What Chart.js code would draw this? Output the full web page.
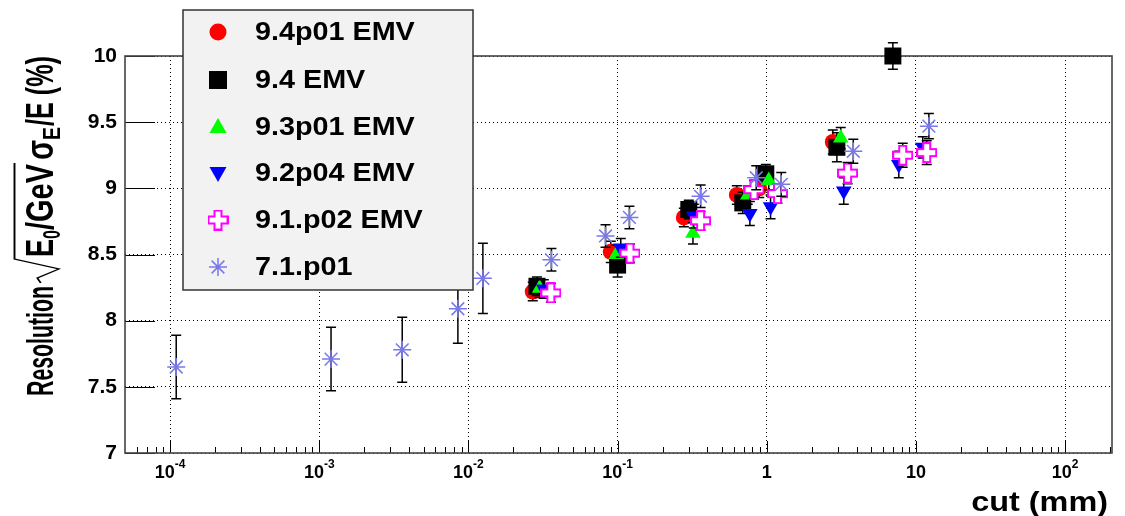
<!DOCTYPE html>
<html>
<head>
<meta charset="utf-8">
<script src="https://cdn.jsdelivr.net/npm/chart.js@4.4.1/dist/chart.umd.min.js"></script>
<style>
  body { margin: 0; background: #fff; }
</style>
</head>
<body>
<canvas id="resChart" width="1125" height="516"></canvas>
<script>
// values: cut (mm), resolution (%), error
const seriesNames = ['9.4p01 EMV', '9.4 EMV', '9.3p01 EMV', '9.2p04 EMV', '9.1.p02 EMV', '7.1.p01'];

const cut94p01 = [0.027, 0.090, 0.278, 0.63, 0.89, 2.77];
const res94p01 = [8.22, 8.52, 8.78, 8.95, 9.00, 9.35];
const err94p01 = [0.07, 0.08, 0.07, 0.07, 0.07, 0.09];

const cut94 = [0.0288, 0.100, 0.300, 0.69, 0.985, 2.95, 7.0];
const res94 = [8.26, 8.42, 8.84, 8.89, 9.11, 9.31, 10.0];
const err94 = [0.07, 0.09, 0.07, 0.08, 0.07, 0.11, 0.10];

const cut93p01 = [0.030, 0.098, 0.32, 0.745, 1.03, 3.13];
const res93p01 = [8.245, 8.50, 8.66, 8.95, 9.06, 9.38];
const err93p01 = [0.07, 0.07, 0.08, 0.07, 0.07, 0.08];

const cut92p04 = [0.032, 0.105, 0.324, 0.77, 1.06, 3.28, 7.67, 11.1];
const res92p04 = [8.24, 8.55, 8.79, 8.81, 8.86, 8.98, 9.18, 9.31];
const err92p04 = [0.07, 0.07, 0.09, 0.09, 0.09, 0.10, 0.10, 0.08];

const cut91p02 = [0.0357, 0.121, 0.36, 0.82, 1.18, 3.48, 8.15, 11.8];
const res91p02 = [8.21, 8.51, 8.755, 8.99, 8.96, 9.115, 9.25, 9.27];
const err91p02 = [0.07, 0.07, 0.07, 0.07, 0.07, 0.08, 0.09, 0.09];

const cut71p01 = [1.1e-4, 1.2e-3, 3.6e-3, 8.5e-3, 0.0125, 0.036, 0.083, 0.12, 0.36, 0.85, 1.25, 3.8, 12.2];
const res71p01 = [7.65, 7.71, 7.78, 8.09, 8.32, 8.46, 8.64, 8.78, 8.94, 9.08, 9.03, 9.28, 9.47];
const err71p01 = [0.24, 0.24, 0.245, 0.26, 0.265, 0.085, 0.085, 0.085, 0.085, 0.09, 0.09, 0.09, 0.095];

const yTicks = [7, 7.5, 8, 8.5, 9, 9.5, 10];
const decadeValues = [1e-4, 1e-3, 1e-2, 1e-1, 1, 10, 100];
const decadeBase = ['10', '10', '10', '10', '1', '10', '10'];
const decadeExp = ['-4', '-3', '-2', '-1', '', '', '2'];

const FONT = '"Liberation Sans", Arial, sans-serif';
const STAR = '#7878e8';

function pts(xs, ys, es) {
    return xs.map((x, i) => ({ x: x, y: ys[i], err: es[i] }));
}

function decadeIndex(v) {
    return decadeValues.findIndex(d => Math.abs(Math.log10(v) - Math.log10(d)) < 1e-6);
}

function isWholeStep(v) {
    const m = v / Math.pow(10, Math.floor(Math.log10(v) + 1e-9));
    return Math.abs(m - Math.round(m)) < 1e-6;
}

// hollow cross marker (9.1.p02)
const crossImg = document.createElement('canvas');
crossImg.width = 21; crossImg.height = 21;
(function () {
    const c = crossImg.getContext('2d');
    const a = 3.5, b = 9.5, o = 10.5;
    c.beginPath();
    c.moveTo(o - a, o - b); c.lineTo(o + a, o - b); c.lineTo(o + a, o - a);
    c.lineTo(o + b, o - a); c.lineTo(o + b, o + a); c.lineTo(o + a, o + a);
    c.lineTo(o + a, o + b); c.lineTo(o - a, o + b); c.lineTo(o - a, o + a);
    c.lineTo(o - b, o + a); c.lineTo(o - b, o - a); c.lineTo(o - a, o - a);
    c.closePath();
    c.fillStyle = '#fff';
    c.fill();
    c.strokeStyle = '#ff00ff';
    c.lineWidth = 2;
    c.stroke();
})();

const markerStyles = [
    { pointStyle: 'circle', pointRadius: 8, backgroundColor: '#ff0000', borderColor: '#ff0000', borderWidth: 0 },
    { pointStyle: 'rect', pointRadius: 12, backgroundColor: '#000000', borderColor: '#000000', borderWidth: 0 },
    { pointStyle: 'triangle', pointRadius: 9, backgroundColor: '#00ff00', borderColor: '#00ff00', borderWidth: 0 },
    { pointStyle: 'triangle', pointRadius: 9, rotation: 180, backgroundColor: '#0000ff', borderColor: '#0000ff', borderWidth: 0 },
    { pointStyle: crossImg, pointRadius: 10, backgroundColor: '#fff', borderColor: '#ff00ff', borderWidth: 0 },
    { pointStyle: 'star', pointRadius: 9, backgroundColor: STAR, borderColor: STAR, borderWidth: 1.5 },
];

const seriesData = [
    pts(cut94p01, res94p01, err94p01),
    pts(cut94, res94, err94),
    pts(cut93p01, res93p01, err93p01),
    pts(cut92p04, res92p04, err92p04),
    pts(cut91p02, res91p02, err91p02),
    pts(cut71p01, res71p01, err71p01),
];

// error bars drawn under each graph's markers
const errorBars = {
    id: 'errorBars',
    beforeDatasetDraw(chart, args) {
        const ds = chart.data.datasets[args.index];
        const xs = chart.scales.x, ys = chart.scales.y;
        const ctx = chart.ctx;
        ctx.save();
        ctx.strokeStyle = '#000';
        ctx.lineWidth = 1.5;
        ds.data.forEach(p => {
            const px = xs.getPixelForValue(p.x);
            const top = ys.getPixelForValue(p.y + p.err);
            const bot = ys.getPixelForValue(p.y - p.err);
            ctx.beginPath();
            ctx.moveTo(px, top); ctx.lineTo(px, bot);
            ctx.moveTo(px - 5, top); ctx.lineTo(px + 5, top);
            ctx.moveTo(px - 5, bot); ctx.lineTo(px + 5, bot);
            ctx.stroke();
        });
        ctx.restore();
    }
};

// frame, inside ticks and decade labels, ROOT style
const frame = {
    id: 'frame',
    beforeDatasetsDraw(chart) {
        const { ctx, chartArea: a } = chart;
        const xs = chart.scales.x, ys = chart.scales.y;
        ctx.save();
        ctx.strokeStyle = '#000';
        ctx.lineWidth = 1;
        ctx.beginPath();
        xs.ticks.forEach(t => {
            if (t.value <= xs.min || t.value >= xs.max || !isWholeStep(t.value)) return;
            const px = Math.round(xs.getPixelForValue(t.value)) + 0.5;
            const len = decadeIndex(t.value) >= 0 ? 12 : 6;
            ctx.moveTo(px, a.bottom); ctx.lineTo(px, a.bottom - len);
        });
        ys.ticks.forEach(t => {
            const py = Math.round(ys.getPixelForValue(t.value)) + 0.5;
            ctx.moveTo(a.left, py); ctx.lineTo(a.left + 30, py);
        });
        ctx.stroke();
        ctx.strokeStyle = '#444';
        ctx.lineWidth = 1.6;
        ctx.strokeRect(a.left, a.top, a.right - a.left, a.bottom - a.top);

        // decade labels: "10" with raised exponent
        ctx.fillStyle = '#000';
        ctx.textBaseline = 'alphabetic';
        decadeValues.forEach((v, i) => {
            const px = xs.getPixelForValue(v);
            ctx.font = 'bold 18px ' + FONT;
            const wb = ctx.measureText(decadeBase[i]).width;
            ctx.font = 'bold 12px ' + FONT;
            const we = decadeExp[i] ? ctx.measureText(decadeExp[i]).width : 0;
            const x0 = px - (wb + we) / 2;
            ctx.font = 'bold 18px ' + FONT;
            ctx.fillText(decadeBase[i], x0, a.bottom + 25);
            if (decadeExp[i]) {
                ctx.font = 'bold 12px ' + FONT;
                ctx.fillText(decadeExp[i], x0 + wb, a.bottom + 15);
            }
        });
        ctx.restore();
    }
};

function legendMarker(ctx, i, x, y) {
    ctx.save();
    if (i === 0) {
        ctx.fillStyle = '#ff0000';
        ctx.beginPath(); ctx.arc(x, y, 8.5, 0, Math.PI * 2); ctx.fill();
    } else if (i === 1) {
        ctx.fillStyle = '#000';
        ctx.fillRect(x - 9, y - 9, 18, 18);
    } else if (i === 2 || i === 3) {
        const d = i === 2 ? -1 : 1;
        ctx.fillStyle = i === 2 ? '#00ff00' : '#0000ff';
        ctx.beginPath();
        ctx.moveTo(x, y + d * 9);
        ctx.lineTo(x - 8.5, y - d * 6);
        ctx.lineTo(x + 8.5, y - d * 6);
        ctx.closePath(); ctx.fill();
    } else if (i === 4) {
        ctx.drawImage(crossImg, x - 10.5, y - 10.5);
    } else {
        ctx.strokeStyle = STAR;
        ctx.lineWidth = 1.5;
        const r = 9, q = r * Math.SQRT1_2;
        ctx.beginPath();
        ctx.moveTo(x - r, y); ctx.lineTo(x + r, y);
        ctx.moveTo(x, y - r); ctx.lineTo(x, y + r);
        ctx.moveTo(x - q, y - q); ctx.lineTo(x + q, y + q);
        ctx.moveTo(x - q, y + q); ctx.lineTo(x + q, y - q);
        ctx.stroke();
    }
    ctx.restore();
}

const legendBox = {
    id: 'legendBox',
    afterDatasetsDraw(chart) {
        const ctx = chart.ctx;
        ctx.save();
        ctx.fillStyle = '#f2f2f2';
        ctx.fillRect(183, 10, 290, 280);
        ctx.strokeStyle = '#333';
        ctx.lineWidth = 1.5;
        ctx.strokeRect(183, 10, 290, 280);
        const rows = [32, 80, 127, 173, 220, 267];
        seriesNames.forEach((name, i) => {
            legendMarker(ctx, i, 218, rows[i]);
            ctx.save();
            ctx.translate(255, rows[i] + 1);
            ctx.scale(1.15, 1);
            ctx.font = 'bold 25px ' + FONT;
            ctx.fillStyle = '#000';
            ctx.textBaseline = 'middle';
            ctx.fillText(name, 0, 0);
            ctx.restore();
        });
        ctx.restore();
    }
};

// axis titles (TLatex-like y title with square root)
function piece(ctx, text, x0, x1, y, size) {
    ctx.font = 'bold ' + size + 'px ' + FONT;
    const w = ctx.measureText(text).width;
    ctx.save();
    ctx.translate(x0, y);
    ctx.scale((x1 - x0) / w, 1);
    ctx.fillText(text, 0, 0);
    ctx.restore();
}

const titles = {
    id: 'titles',
    afterDraw(chart) {
        const ctx = chart.ctx;
        ctx.save();
        ctx.fillStyle = '#000';
        ctx.textBaseline = 'alphabetic';
        // x title
        ctx.save();
        ctx.translate(1108, 511);
        ctx.scale(1.2, 1);
        ctx.font = 'bold 27px ' + FONT;
        ctx.textAlign = 'right';
        ctx.fillText('cut (mm)', 0, 0);
        ctx.restore();
        // y title, rotated
        ctx.save();
        ctx.translate(53, 396);
        ctx.rotate(-Math.PI / 2);
        ctx.scale(1, 1.75);
        piece(ctx, 'Resolution', 0, 110, 0, 21);
        // radical
        ctx.strokeStyle = '#000';
        ctx.lineWidth = 1.1;
        ctx.beginPath();
        ctx.moveTo(113, -7);
        ctx.lineTo(118, -9);
        ctx.lineTo(127, 3.5);
        ctx.lineTo(137, -22);
        ctx.lineTo(233, -22);
        ctx.stroke();
        piece(ctx, 'E', 139, 157, 0, 22);
        piece(ctx, '0', 157, 166, 4, 14);
        piece(ctx, '/GeV', 166, 232, 0, 22);
        piece(ctx, 'σ', 236, 256, 0, 22);
        piece(ctx, 'E', 256, 269, 4, 14);
        piece(ctx, '/E (%)', 270, 340, 0, 22);
        ctx.restore();
        ctx.restore();
    }
};

new Chart(document.getElementById('resChart'), {
    type: 'scatter',
    data: {
        datasets: seriesData.map((d, i) => Object.assign({
            label: seriesNames[i],
            data: d,
            showLine: false,
            clip: false,
            order: seriesNames.length - i,
        }, markerStyles[i])),
    },
    options: {
        responsive: false,
        devicePixelRatio: 1,
        animation: false,
        layout: { padding: { top: 56, right: 13, bottom: 0, left: 0 } },
        plugins: {
            legend: { display: false },
            tooltip: { enabled: false },
        },
        scales: {
            x: {
                type: 'logarithmic',
                min: 4.99e-5,
                max: 206,
                afterFit: s => { s.height = 63; },
                grid: {
                    color: c => (c.tick && decadeIndex(c.tick.value) >= 0) ? '#000' : 'rgba(0,0,0,0)',
                    drawTicks: false,
                    lineWidth: 1,
                },
                border: { display: false, dash: [1, 3] },
                ticks: { display: false },
            },
            y: {
                min: 7,
                max: 10,
                afterFit: s => { s.width = 125; },
                afterBuildTicks: s => { s.ticks = yTicks.map(v => ({ value: v })); },
                grid: { color: '#000', drawTicks: false, lineWidth: 1 },
                border: { display: false, dash: [1, 3] },
                ticks: {
                    padding: 8,
                    color: '#000',
                    font: { family: FONT, weight: 'bold', size: 21 },
                    callback: v => String(v),
                },
            },
        },
    },
    plugins: [errorBars, frame, legendBox, titles],
});
</script>
</body>
</html>
